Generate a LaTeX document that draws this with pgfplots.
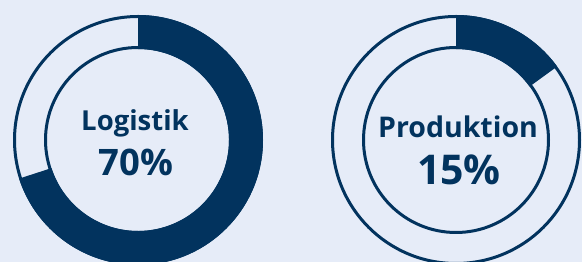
\documentclass[border=0pt]{standalone}
\usepackage{pgfplots}
\usepackage{pgfplotstable}
\pgfplotsset{compat=1.18}
\usepackage{fontspec}
\setmainfont{Open Sans}
\definecolor{navy}{RGB}{2,51,94}
\definecolor{bg}{RGB}{230,236,248}
\pgfplotstableread{
name value cx cy
Logistik 70 138 122
Produktion 15 456 122
}\donuts
\begin{document}
\begin{tikzpicture}
\pgfplotstablegetelem{0}{value}\of\donuts \edef\va{\pgfplotsretval}
\pgfplotstablegetelem{1}{value}\of\donuts \edef\vb{\pgfplotsretval}
\pgfmathsetmacro{\ea}{90-3.6*\va}
\pgfmathsetmacro{\eb}{90-3.6*\vb}
\fill[bg] (0,0) rectangle (582pt,262pt);
\begin{axis}[
  at={(0,0)}, anchor=south west,
  scale only axis, width=582pt, height=262pt,
  xmin=0, xmax=582, ymin=0, ymax=262,
  hide axis, clip=true,
]
% Logistik
\fill[navy] (axis cs:138,122) ++(90:125pt) arc[start angle=90, end angle=\ea, radius=125pt]
  -- ++(\ea:-34pt) arc[start angle=\ea, end angle=90, radius=91pt] -- cycle;
\draw[navy, line width=3pt] (axis cs:138,122) circle[radius=123.5pt];
\draw[navy, line width=3pt] (axis cs:138,122) circle[radius=92.5pt];
% Produktion
\fill[navy] (axis cs:456,122) ++(90:125pt) arc[start angle=90, end angle=\eb, radius=125pt]
  -- ++(\eb:-34pt) arc[start angle=\eb, end angle=90, radius=91pt] -- cycle;
\draw[navy, line width=3pt] (axis cs:456,122) circle[radius=123.5pt];
\draw[navy, line width=3pt] (axis cs:456,122) circle[radius=92.5pt];
% labels
\node[anchor=base, text=navy, font=\fontsize{27.5}{30}\selectfont\bfseries] at (axis cs:135,131) {Logistik};
\node[anchor=base, text=navy, font=\fontsize{36.5}{40}\selectfont\bfseries] at (axis cs:136,86) {\va\%};
\node[anchor=base, text=navy, font=\fontsize{28.5}{33}\selectfont\bfseries] at (axis cs:458,124) {Produktion};
\node[anchor=base, text=navy, font=\fontsize{41}{45}\selectfont\bfseries] at (axis cs:459,77) {\vb\%};
\end{axis}
\pgfresetboundingbox
\path[use as bounding box] (0,0) rectangle (582pt,262pt);
\end{tikzpicture}
\end{document}
